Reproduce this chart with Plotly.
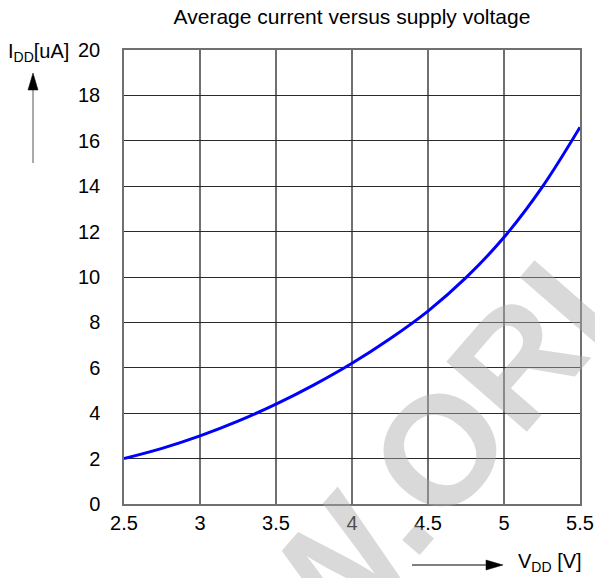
import plotly.graph_objects as go

# Supply voltage (V) and average supply current (uA)
vdd = [2.5, 2.75, 3.0, 3.25, 3.5, 3.75, 4.0, 4.25, 4.5, 4.75, 5.0, 5.25, 5.5]
idd = [2.0, 2.45, 3.0, 3.65, 4.4, 5.25, 6.2, 7.28, 8.5, 9.97, 11.75, 13.95, 16.6]

x_ticks = [2.5, 3, 3.5, 4, 4.5, 5, 5.5]
x_tick_text = ["2.5", "3", "3.5", "4", "4.5", "5", "5.5"]
y_ticks = [0, 2, 4, 6, 8, 10, 12, 14, 16, 18, 20]

title_text = "Average current versus supply voltage"
y_label = "I<sub>DD</sub>[uA]"
x_label = "V<sub>DD</sub> [V]"
watermark = "WWW.ORI"

W, H = 595, 578
L, R, T, B = 124, 15, 50, 74
PW, PH = W - L - R, H - T - B
FONT = "Liberation Sans, Arial, sans-serif"


def px(x):
    return (x - L) / PW


def py(y):
    return (H - B - y) / PH


fig = go.Figure()
fig.add_trace(go.Scatter(
    x=vdd, y=idd, mode="lines",
    line=dict(color="#0000ff", width=3, shape="spline"),
    hoverinfo="skip", showlegend=False,
))

fig.update_layout(
    width=W, height=H,
    margin=dict(l=L, r=R, t=T, b=B, autoexpand=False),
    paper_bgcolor="white", plot_bgcolor="white",
    font=dict(family=FONT, size=20, color="black"),
    showlegend=False,
    title=dict(text=title_text, x=px((L + W - R) / 2), xanchor="center",
               xref="paper", y=1 - 17 / H, yanchor="middle",
               font=dict(size=21, color="black")),
    xaxis=dict(range=[2.5, 5.5], tickvals=x_ticks, ticktext=x_tick_text,
               automargin=False,
               showgrid=True, gridcolor="#707070", gridwidth=1.5,
               showline=True, linecolor="#707070", linewidth=1.5, mirror=True,
               zeroline=False, ticks="", ticklabelstandoff=0,
               tickfont=dict(size=20)),
    yaxis=dict(range=[0, 20], tickvals=y_ticks, automargin=False,
               showgrid=True, gridcolor="#2a2a2a", gridwidth=1,
               showline=True, linecolor="#707070", linewidth=1.5, mirror=True,
               zeroline=False, ticks="", ticklabelstandoff=18,
               tickfont=dict(size=20)),
)

# axis captions
fig.add_annotation(text=y_label, xref="paper", yref="paper",
                   x=px(6), y=py(52), xanchor="left", yanchor="middle",
                   showarrow=False, font=dict(size=20))
fig.add_annotation(text=x_label, xref="paper", yref="paper",
                   x=px(584), y=py(562), xanchor="right", yanchor="middle",
                   showarrow=False, font=dict(size=20))

# direction arrows next to the captions
shapes = [
    dict(type="line", xref="paper", yref="paper",
         x0=px(33), y0=py(163), x1=px(33), y1=py(88),
         line=dict(color="#555555", width=1)),
    dict(type="path", xref="paper", yref="paper",
         path=f"M{px(33)},{py(73)} L{px(28)},{py(90)} L{px(38)},{py(90)} Z",
         fillcolor="black", line=dict(color="black", width=0.5)),
    dict(type="line", xref="paper", yref="paper",
         x0=px(412), y0=py(565), x1=px(490), y1=py(565),
         line=dict(color="black", width=1)),
    dict(type="path", xref="paper", yref="paper",
         path=f"M{px(503)},{py(565)} L{px(486)},{py(560)} L{px(486)},{py(570)} Z",
         fillcolor="black", line=dict(color="black", width=0.5)),
]
fig.update_layout(shapes=shapes)

# translucent diagonal watermark
fig.add_annotation(text="<b>" + watermark + "</b>", xref="paper", yref="paper",
                   x=px(335), y=py(570), xanchor="center", yanchor="middle",
                   textangle=-49, showarrow=False,
                   font=dict(size=155, family=FONT, color="rgba(170,170,170,0.45)"))

fig.write_html("out.html")
